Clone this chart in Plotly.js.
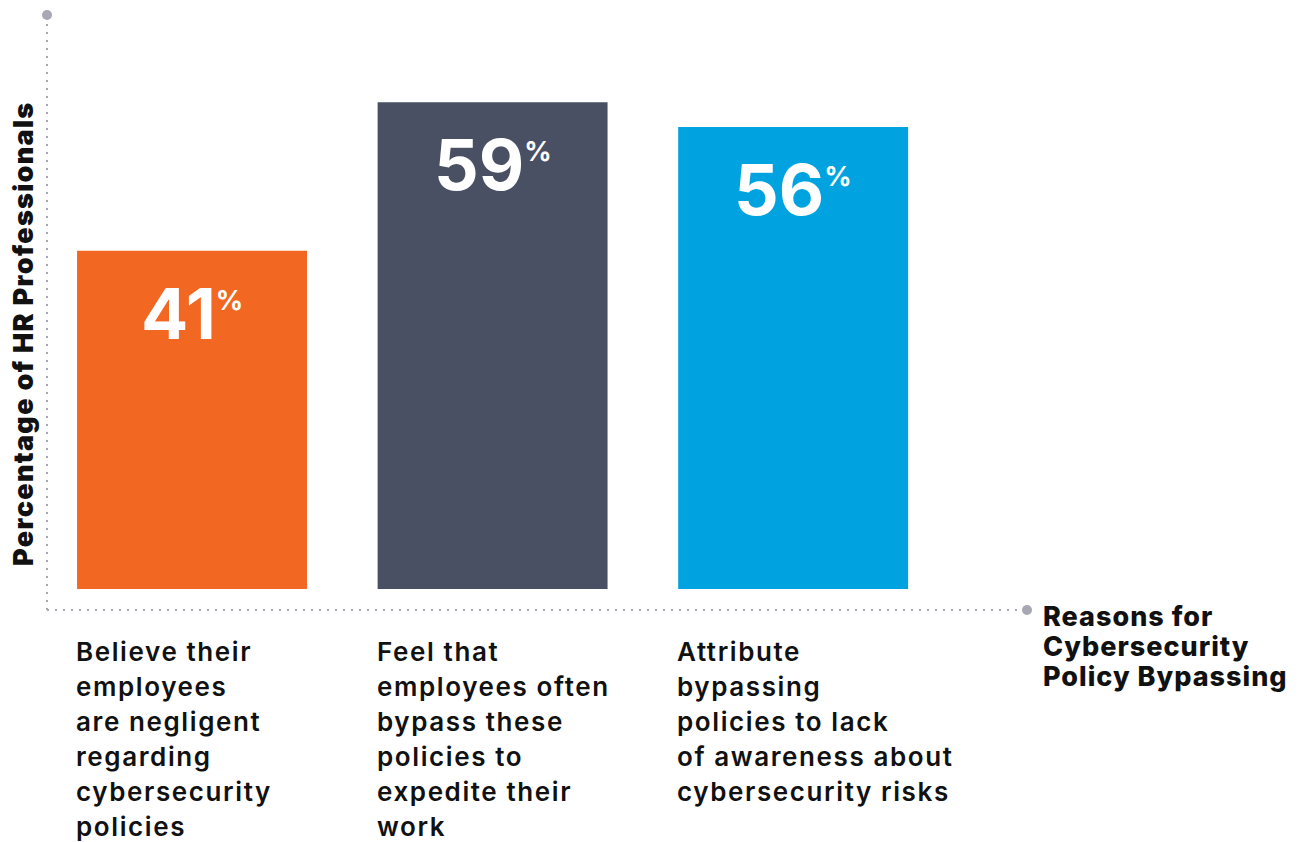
<!DOCTYPE html>
<html>
<head>
<meta charset="utf-8">
<script src="https://cdn.plot.ly/plotly-3.0.1.min.js"></script>
<style>html,body{margin:0;padding:0;background:#fff;}#chart{width:1304px;height:842px;}</style>
</head>
<body>
<div id="chart"></div>
<script>
const categories = [
  "Believe their<br>employees<br>are negligent<br>regarding<br>cybersecurity<br>policies",
  "Feel that<br>employees often<br>bypass these<br>policies to<br>expedite their<br>work",
  "Attribute<br>bypassing<br>policies to lack<br>of awareness about<br>cybersecurity risks"
];
const values = [41, 59, 56];
const colors = ["#F26722", "#4A5064", "#00A3E0"];
const yTitle = "Percentage of HR Professionals";
const xTitle = "Reasons for<br>Cybersecurity<br>Policy Bypassing";

const FONT = "Inter, 'Noto Sans', sans-serif";
const barWidth = 0.765;
const idx = categories.map((c, i) => i);
const spaced = (t, ls) => "<span style='letter-spacing:" + ls + "px'>" + t + "</span>";

const trace = {
  type: "bar",
  x: idx,
  y: values,
  width: barWidth,
  marker: {color: colors, line: {width: 0}},
  hoverinfo: "skip"
};

const annotations = [];
values.forEach((v, i) => {
  annotations.push({
    xref: "x", yref: "y", x: i, y: v,
    xanchor: "center", yanchor: "top", yshift: -18,
    text: "<b>" + v + "<sup><span style='font-size:27px'>%</span></sup></b>",
    showarrow: false,
    font: {family: FONT, size: 70, color: "#ffffff", weight: 900}
  });
});
categories.forEach((c, i) => {
  c.split("<br>").forEach((line, j) => {
    annotations.push({
      xref: "x", yref: "paper", x: i - barWidth / 2, y: 0,
      xanchor: "left", yanchor: "middle", xshift: -3,
      yshift: -41 - 35 * j,
      text: spaced(line, 1.6), showarrow: false,
      font: {family: FONT, size: 26, color: "#111111", weight: 600}
    });
  });
});
xTitle.split("<br>").forEach((line, j) => {
  annotations.push({
    xref: "paper", yref: "paper", x: 1, y: 0,
    xanchor: "left", yanchor: "middle", xshift: 14,
    yshift: -6 - 30 * j,
    text: spaced(line, 1), showarrow: false,
    font: {family: FONT, size: 27, color: "#111111", weight: 800}
  });
});
annotations.push({
  xref: "paper", yref: "paper", x: 0, y: 0.464,
  xanchor: "center", yanchor: "middle", xshift: -23,
  textangle: -90,
  text: spaced(yTitle, 1.3), showarrow: false,
  font: {family: FONT, size: 27, color: "#111111", weight: 900}
});

const dotLine = {color: "#A7A7B5", width: 2, dash: "2px,6px"};
const layout = {
  width: 1304, height: 842,
  margin: {l: 47, r: 277, t: 15, b: 232},
  paper_bgcolor: "#ffffff", plot_bgcolor: "#ffffff",
  showlegend: false,
  xaxis: {range: [-0.4825, 2.778], showgrid: false, zeroline: false, showticklabels: false, ticks: "", showline: false, fixedrange: true},
  yaxis: {range: [-2.545, 69.58], showgrid: false, zeroline: false, showticklabels: false, ticks: "", showline: false, fixedrange: true},
  shapes: [
    {type: "line", xref: "paper", yref: "paper", x0: 0, x1: 0, y0: 0, y1: 1, line: dotLine},
    {type: "line", xref: "paper", yref: "paper", x0: 0, x1: 1, y0: 0, y1: 0, line: dotLine},
    {type: "circle", xref: "paper", yref: "paper", xsizemode: "pixel", ysizemode: "pixel", xanchor: 0, yanchor: 1, x0: -5, x1: 5, y0: -5, y1: 5, fillcolor: "#A7A7B5", line: {width: 0}},
    {type: "circle", xref: "paper", yref: "paper", xsizemode: "pixel", ysizemode: "pixel", xanchor: 1, yanchor: 0, x0: -5, x1: 5, y0: -5, y1: 5, fillcolor: "#A7A7B5", line: {width: 0}}
  ],
  annotations: annotations
};

Plotly.newPlot("chart", [trace], layout, {displayModeBar: false, staticPlot: true});
</script>
</body>
</html>
